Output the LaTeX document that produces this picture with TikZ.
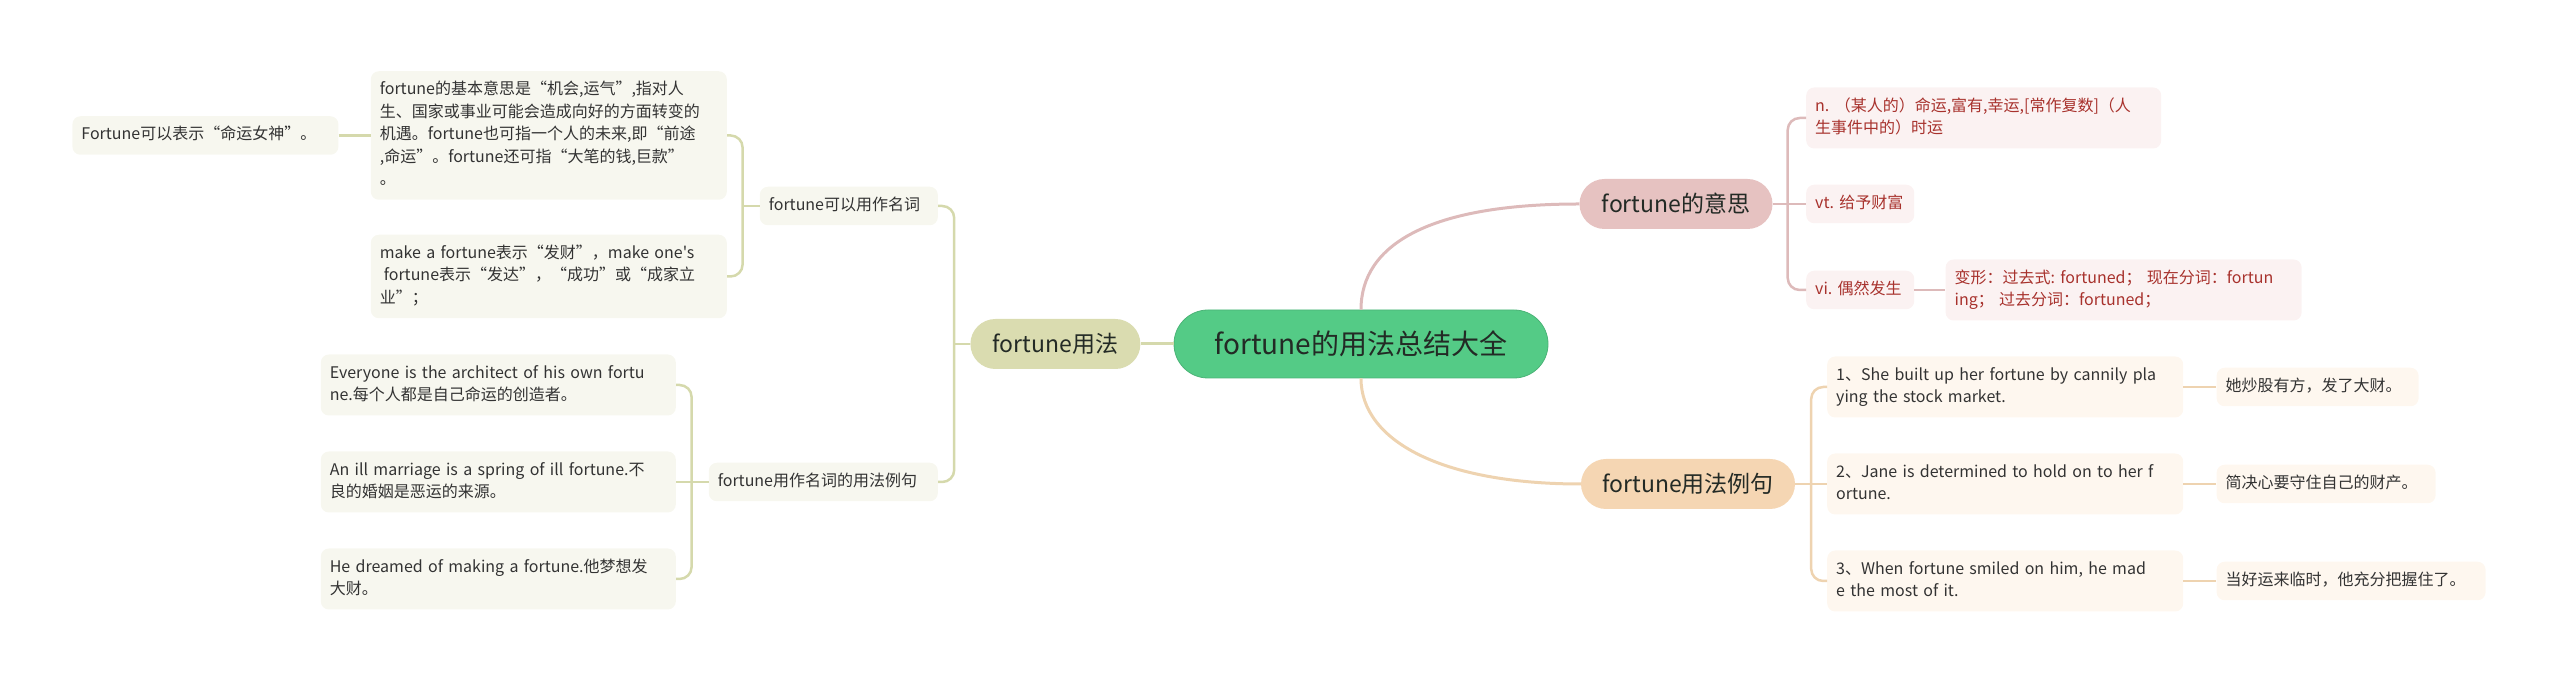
\documentclass[tikz,border=0pt]{standalone}
\usepackage{fontspec}
\setmainfont{Noto Sans CJK SC}
\newfontfamily\fortunefont{Noto Sans CJK SC}
\usepackage{xcolor}
\usetikzlibrary{positioning}
\definecolor{fortunegreen}{HTML}{54CB86}
\definecolor{fortunedark}{HTML}{232A25}
\definecolor{fortuneolive}{HTML}{DADCB0}
\definecolor{fortuneoliveline}{HTML}{D5D9AC}
\definecolor{fortuneolivelight}{HTML}{F7F7EF}
\definecolor{fortunerose}{HTML}{E6C2C1}
\definecolor{fortuneroseline}{HTML}{DDBABA}
\definecolor{fortuneroselight}{HTML}{FBF2F2}
\definecolor{fortunered}{HTML}{A8322D}
\definecolor{fortunepeach}{HTML}{F5D6B3}
\definecolor{fortunepeachline}{HTML}{EED3B0}
\definecolor{fortunepeachlight}{HTML}{FEF7EF}
\definecolor{fortunetext}{HTML}{333333}

\begin{document}
\begin{tikzpicture}[x=1pt, y=1pt,
    root/.style={fill=fortunegreen, draw=fortunegreen!88!black, line width=0.8pt,
      rounded corners=34pt, minimum width=374pt, minimum height=68pt,
      font=\fortunefont\fontsize{28}{34}\selectfont, text=fortunedark},
    topic/.style={rounded corners=25pt, minimum height=50pt,
      font=\fortunefont\fontsize{23}{28}\selectfont, text=fortunedark},
    leaf/.style={rounded corners=8pt, align=left, inner xsep=9pt, inner ysep=8pt,
      font=\fortunefont\fontsize{16}{22.5}\selectfont,
      execute at begin node=\strut, execute at end node=\strut},
    leafg/.style={leaf, fill=fortuneolivelight, text=fortunetext},
    leafr/.style={leaf, fill=fortuneroselight, text=fortunered},
    leafp/.style={leaf, fill=fortunepeachlight, text=fortunetext},
    rootlink/.style={line width=3pt},
    branch/.style={line width=2.5pt, rounded corners=12pt}
  ]
    \useasboundingbox (0,0) rectangle (2560,685);

    % main topics
    \node[root] (root) at (1361,341) {fortune的用法总结大全};
    \node[topic, fill=fortuneolive, minimum width=170pt, left=33pt of root] (usage) {fortune用法};
    \node[topic, fill=fortunerose, minimum width=193pt] (meaning) at (1676,481) {fortune的意思};
    \node[topic, fill=fortunepeach, minimum width=214pt] (examples) at (1688,201) {fortune用法例句};

    % left side
    \node[leafg, text width=160pt, anchor=east] (nounuse) at (938,479) {fortune可以用作名词};
    \node[leafg, text width=211pt, anchor=east] (nounex) at (938,203) {fortune用作名词的用法例句};
    \node[leafg, text width=338pt, anchor=east] (basic) at (727,549.5)
      {fortune的基本意思是“机会,运气”,指对人\\生、国家或事业可能会造成向好的方面转变的\\机遇。fortune也可指一个人的未来,即“前途\\,命运”。fortune还可指“大笔的钱,巨款”\\。};
    \node[leafg, text width=338pt, anchor=east] (makeb) at (727,408.5)
      {make a fortune表示“发财”，make one's\\\hspace*{4pt}fortune表示“发达”，“成功”或“成家立\\业”；};
    \node[leafg, text width=248pt, left=32pt of basic] (goddess) {Fortune可以表示“命运女神”。};
    \node[leafg, text width=337pt, anchor=east] (ex1) at (676,300)
      {Everyone is the architect of his own fortu\\ne.每个人都是自己命运的创造者。};
    \node[leafg, text width=337pt, anchor=east] (ex2) at (676,203)
      {An ill marriage is a spring of ill fortune.不\\良的婚姻是恶运的来源。};
    \node[leafg, text width=337pt, anchor=east] (ex3) at (676,106)
      {He dreamed of making a fortune.他梦想发\\大财。};

    % right side, meanings
    \node[leafr, text width=337pt, anchor=west] (nsense) at (1806,567)
      {n.~（某人的）命运,富有,幸运,[常作复数]（人\\生事件中的）时运};
    \node[leafr, text width=90pt, anchor=west] (vtsense) at (1806,481) {vt.~给予财富};
    \node[leafr, text width=90pt, anchor=west] (visense) at (1806,395) {vi.~偶然发生};
    \node[leafr, text width=338pt, right=31pt of visense] (forms)
      {变形：过去式:~fortuned；~现在分词：fortun\\ing；~过去分词：fortuned；};

    % right side, example sentences
    \node[leafp, text width=338pt, anchor=west] (s1) at (1827,298)
      {1、She built up her fortune by cannily pla\\ying the stock market.};
    \node[leafp, text width=338pt, anchor=west] (s2) at (1827,201)
      {2、Jane is determined to hold on to her f\\ortune.};
    \node[leafp, text width=338pt, anchor=west] (s3) at (1827,104)
      {3、When fortune smiled on him, he mad\\e the most of it.};
    \node[leafp, text width=184pt, right=33pt of s1] (t1) {她炒股有方，发了大财。};
    \node[leafp, text width=201pt, right=33pt of s2] (t2) {简决心要守住自己的财产。};
    \node[leafp, text width=251pt, right=33pt of s3] (t3) {当好运来临时，他充分把握住了。};

    % junctions
    \coordinate[left=17pt of nounuse.west] (jnoun);
    \coordinate[left=16pt of usage.west] (jusage);
    \coordinate[left=17pt of nounex.west] (jex);
    \coordinate[right=15pt of meaning.east] (jmeaning);
    \coordinate[right=16pt of examples.east] (jexamples);

    % connectors
    \draw[rootlink, draw=fortuneoliveline] (root) -- (usage);
    \draw[rootlink, draw=fortuneroseline] (root.north) .. controls +(0,65) and +(-150,0) .. (meaning.west);
    \draw[rootlink, draw=fortunepeachline] (root.south) .. controls +(0,-62) and +(-140,0) .. (examples.west);

    \draw[branch, draw=fortuneoliveline] (nounuse.east) -| (jusage) |- (nounex.east);
    \draw[branch, draw=fortuneoliveline] (jusage) -- (usage.west);
    \draw[branch, draw=fortuneoliveline] (basic.east) -| (jnoun) |- (makeb.east);
    \draw[branch, draw=fortuneoliveline] (jnoun) -- (nounuse.west);
    \draw[branch, draw=fortuneoliveline] (goddess) -- (basic);
    \draw[branch, draw=fortuneoliveline] (ex1.east) -| (jex) |- (ex3.east);
    \draw[branch, draw=fortuneoliveline] (ex2.east) -- (nounex.west);

    \draw[branch, draw=fortuneroseline] (nsense.west) -| (jmeaning) |- (visense.west);
    \draw[branch, draw=fortuneroseline] (meaning.east) -- (vtsense.west);
    \draw[branch, draw=fortuneroseline] (visense) -- (forms);

    \draw[branch, draw=fortunepeachline] (s1.west) -| (jexamples) |- (s3.west);
    \draw[branch, draw=fortunepeachline] (examples.east) -- (s2.west);
    \draw[branch, draw=fortunepeachline] (s1) -- (t1);
    \draw[branch, draw=fortunepeachline] (s2) -- (t2);
    \draw[branch, draw=fortunepeachline] (s3) -- (t3);
  \end{tikzpicture}
\end{document}
